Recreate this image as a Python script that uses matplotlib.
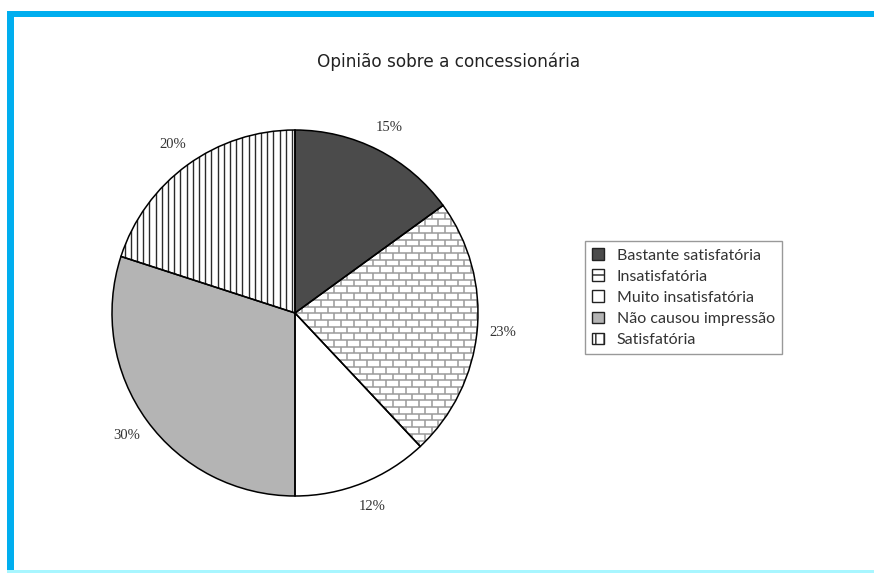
import matplotlib
matplotlib.use("Agg")
import matplotlib.pyplot as plt
from matplotlib.patches import Rectangle, Patch, PathPatch
from matplotlib.collections import LineCollection
import numpy as np

W, H = 874, 573

categories = ["Bastante satisfatória", "Insatisfatória", "Muito insatisfatória",
              "Não causou impressão", "Satisfatória"]
percent = [15, 23, 12, 30, 20]
title = "Opinião sobre a concessionária"

fill = ["#4b4b4b", "white", "white", "#b4b4b4", "white"]

# pie centre and radius in pixels
cx, cy, rad = 295, 313, 183

fig = plt.figure(figsize=(W / 100, H / 100), dpi=100)
ax = fig.add_axes([0, 0, 1, 1])

wedges, texts, autotexts = ax.pie(
    percent, colors=fill, startangle=90, counterclock=False,
    autopct=lambda p: f"{p:.0f}%", pctdistance=1.14,
    wedgeprops=dict(edgecolor="none", linewidth=0),
    textprops=dict(family="Liberation Serif", fontsize=10.5, color="#333333"))

ax.set_xlim(-cx / rad, (W - cx) / rad)
ax.set_ylim(-(H - cy) / rad, cy / rad)
ax.axis("off")

# brick pattern for "Insatisfatória"
bh, bw = 6.7 / rad, 13.0 / rad
segs = []
ys = np.arange(-1.1, 1.1, bh)
for k, y in enumerate(ys):
    segs.append([(-1.1, y), (1.1, y)])
    off = (k % 2) * bw / 2
    for x in np.arange(-1.1 + off, 1.1, bw):
        segs.append([(x, y), (x, y + bh)])
bricks = LineCollection(segs, colors="#9a9a9a", linewidths=1.1, zorder=2)
ax.add_collection(bricks)
bricks.set_clip_path(wedges[1])

# vertical stripes for "Satisfatória"
sp = 6.2 / rad
stripes = LineCollection([[(x, -1.1), (x, 1.1)] for x in np.arange(-1.1, 1.1, sp)],
                         colors="#2a2a2a", linewidths=1.0, zorder=2)
ax.add_collection(stripes)
stripes.set_clip_path(wedges[4])

# outlines on top of the patterns
for w in wedges:
    ax.add_patch(PathPatch(w.get_path(), transform=w.get_transform(),
                           facecolor="none", edgecolor="black",
                           linewidth=1.1, zorder=3))

fig.text(449 / W, 1 - 62 / H, title, ha="center", va="center",
         fontsize=12.2, color="#222222", family="DejaVu Sans")

hatches = [None, "+", None, None, "||"]
handles = [Patch(facecolor=c, edgecolor="#222222", hatch=h, linewidth=1.0)
           for c, h in zip(fill, hatches)]
leg = fig.legend(handles, categories, loc="upper left",
                 bbox_to_anchor=(585 / W, 1 - 241 / H),
                 fancybox=False, edgecolor="#999999", framealpha=1,
                 prop=dict(family="Lato", size=11.5),
                 handlelength=0.75, handleheight=0.75, handletextpad=0.8,
                 labelspacing=0.42, borderpad=0.45, borderaxespad=0)
leg.get_frame().set_linewidth(1.0)
for t in leg.get_texts():
    t.set_color("#333333")

# blue frame
blue = "#00aeef"
fig.add_artist(Rectangle((7 / W, 0), 7 / W, 1 - 11 / H, transform=fig.transFigure,
                         facecolor=blue, edgecolor="none"))
fig.add_artist(Rectangle((7 / W, 1 - 17 / H), 1 - 7 / W, 6 / H, transform=fig.transFigure,
                         facecolor=blue, edgecolor="none"))
fig.add_artist(Rectangle((7 / W, 0), 1 - 7 / W, 3 / H, transform=fig.transFigure,
                         facecolor="#a8f6ff", edgecolor="none"))

fig.savefig("out.png", dpi=100)
